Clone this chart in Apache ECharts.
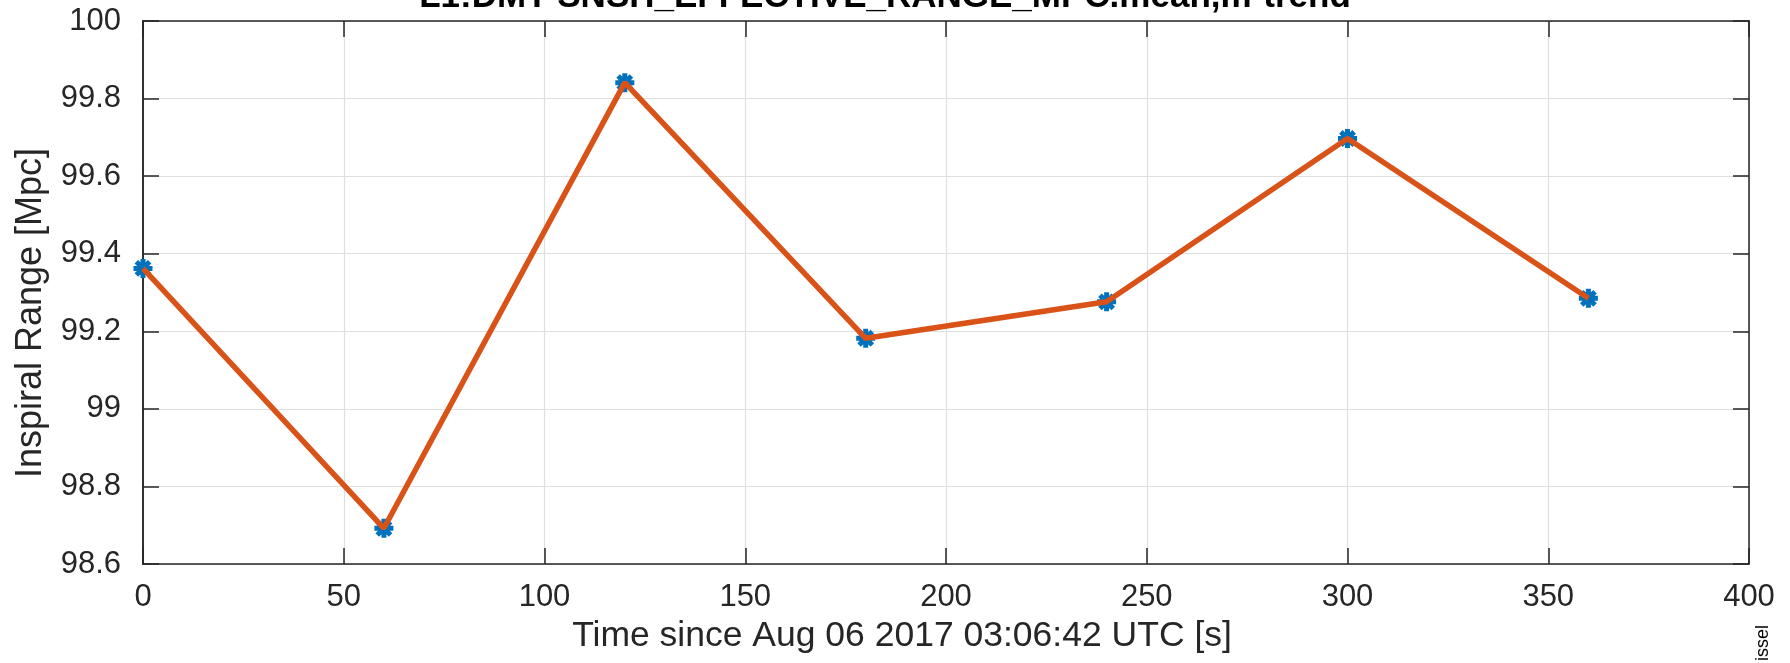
<!DOCTYPE html>
<html>
<head>
<meta charset="utf-8">
<script src="https://cdn.jsdelivr.net/npm/echarts@6/dist/echarts.min.js"></script>
<style>
  html, body { margin: 0; padding: 0; background: #fff; }
  #chart { width: 1790px; height: 663px; }
</style>
</head>
<body>
<div id="chart"></div>
<script>
  // time since start [s] and inspiral range [Mpc]
  const times = [0, 60, 120, 180, 240, 300, 360];
  const range = [99.362, 98.692, 99.841, 99.182, 99.276, 99.697, 99.285];

  const titleText = 'L1:DMT-SNSH_EFFECTIVE_RANGE_MPC.mean,m-trend';
  const xName = 'Time since Aug 06 2017 03:06:42 UTC [s]';
  const yName = 'Inspiral Range [Mpc]';

  const pts = times.map((t, i) => [t, range[i]]);
  const font = 'Liberation Sans';
  const ink = '#262626';
  const asterisk = 'path://M0,-10L0,10M-10,0L10,0M-7,-7L7,7M-7,7L7,-7';

  const chart = echarts.init(document.getElementById('chart'));

  // axes with no labels, used for the box and the inward ticks
  function frameAxis(extra) {
    return Object.assign({
      type: 'value',
      axisLine: { show: true, onZero: false, lineStyle: { color: ink, width: 1.5 } },
      axisTick: { show: true, inside: true, length: 16, lineStyle: { color: ink, width: 1.5 } },
      axisLabel: { show: false },
      splitLine: { show: false }
    }, extra);
  }

  chart.setOption({
    animation: false,
    textStyle: { fontFamily: font },
    grid: { left: 143, right: 41, top: 21, bottom: 99 },
    xAxis: [
      {
        type: 'value', min: 0, max: 400, interval: 50,
        axisLine: { show: true, onZero: false, lineStyle: { color: ink, width: 1.5 } },
        axisTick: { show: true, inside: true, length: 16, lineStyle: { color: ink, width: 1.5 } },
        axisLabel: { color: ink, fontSize: 31, margin: 18, fontFamily: font },
        splitLine: { show: true, lineStyle: { color: '#dfdfdf', width: 1.2 } }
      },
      frameAxis({ position: 'top', min: 0, max: 400, interval: 50 })
    ],
    yAxis: [
      {
        type: 'value', min: 98.6, max: 100, interval: 0.2,
        axisLine: { show: true, onZero: false, lineStyle: { color: ink, width: 1.5 } },
        axisTick: { show: false },
        axisLabel: {
          color: ink, fontSize: 31, margin: 22, fontFamily: font,
          formatter: v => String(+v.toFixed(1))
        },
        splitLine: { show: true, lineStyle: { color: '#dfdfdf', width: 1.2 } }
      },
      frameAxis({ position: 'right', min: 98.6, max: 100, interval: 0.2 }),
      frameAxis({ position: 'left', min: 98.6, max: 100, interval: 0.2 })
    ],
    series: [
      {
        type: 'scatter',
        data: pts,
        symbol: asterisk,
        symbolSize: 19,
        itemStyle: { color: 'none', borderColor: '#0072BD', borderWidth: 5, opacity: 1 },
        z: 2
      },
      {
        type: 'line',
        data: pts,
        showSymbol: false,
        lineStyle: { color: '#D95319', width: 5.5 },
        z: 3
      }
    ],
    graphic: [
      {
        type: 'text', x: 885, y: -3,
        style: { text: titleText, fill: '#000', font: 'bold 35px "Liberation Sans"', align: 'center', verticalAlign: 'middle' }
      },
      {
        type: 'text', x: 31, y: 313, rotation: Math.PI / 2,
        style: { text: yName, fill: ink, font: '36px "Liberation Sans"', align: 'center', verticalAlign: 'middle' }
      },
      {
        type: 'text', x: 902, y: 636,
        style: { text: xName, fill: ink, font: '35.5px "Liberation Sans"', align: 'center', verticalAlign: 'middle' }
      },
      {
        type: 'text', x: 1763, y: 625, rotation: Math.PI / 2,
        style: { text: 'issel', fill: '#000', font: '18px "Liberation Sans"', align: 'right', verticalAlign: 'middle' }
      }
    ]
  });
</script>
</body>
</html>
